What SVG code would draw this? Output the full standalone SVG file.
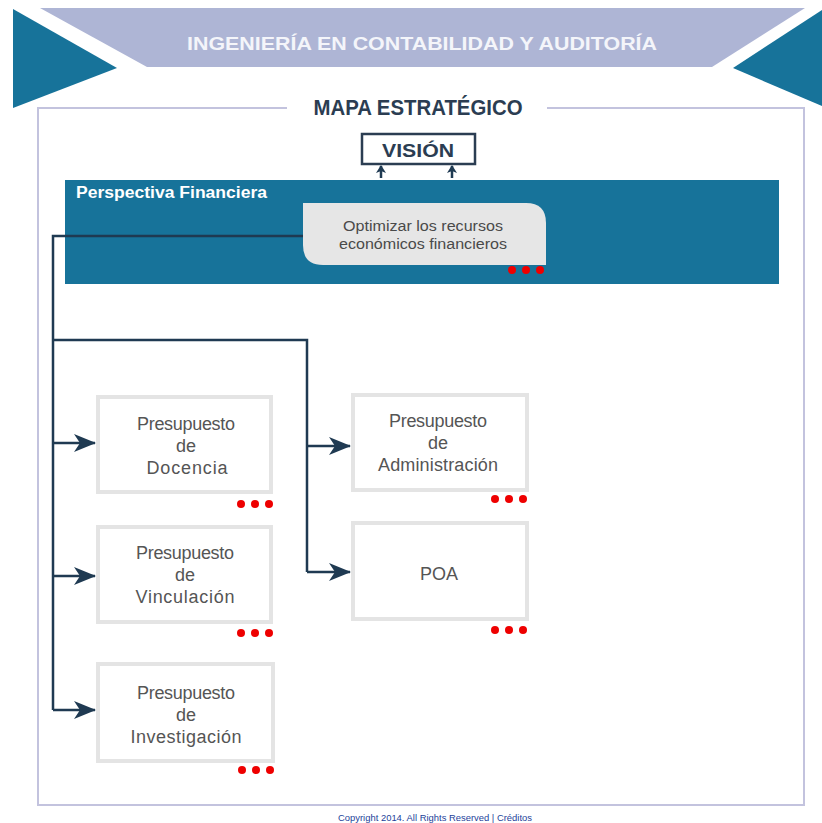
<svg xmlns="http://www.w3.org/2000/svg" width="822" height="823" viewBox="0 0 822 823">
  <style>
    .band { fill: #aeb5d5; }
    .tri { fill: #17739a; }
    .frame { fill: none; stroke: #c3c3de; stroke-width: 2; }
    .wire { fill: none; stroke: #1f3a52; stroke-width: 2.5; }
    .node rect { fill: #ffffff; stroke: #e4e4e4; stroke-width: 4; }
    .node text { font-family: "Liberation Sans", Arial, sans-serif; font-size: 18px; fill: #555555; text-anchor: middle; }
    .dot { fill: #ee0000; }
    .head { font-family: "Liberation Sans", Arial, sans-serif; font-weight: bold; fill: #2b3d52; text-anchor: middle; }
  </style>
  <defs>
    <marker id="arrow" viewBox="0 0 22 20" refX="21" refY="10" markerWidth="22" markerHeight="20" markerUnits="userSpaceOnUse" orient="auto">
      <path d="M0,1 L22,10 L0,19 L6,10 Z" fill="#1f3a52"/>
    </marker>
    <marker id="arrowSmall" viewBox="0 0 8 10" refX="7" refY="5" markerWidth="8" markerHeight="10" markerUnits="userSpaceOnUse" orient="auto">
      <path d="M0,0 L8,5 L0,10 L2,5 Z" fill="#1f3a52"/>
    </marker>
  </defs>

  <rect width="822" height="823" fill="#ffffff"/>

  <!-- header banner -->
  <g id="header">
    <polygon class="band" points="40,8 805,8 712,67 147,67"/>
    <polygon class="tri" points="13,9 117,68 13,108"/>
    <polygon class="tri" points="822,10 733,68 822,106"/>
    <text x="422" y="50" font-family="Liberation Sans, Arial, sans-serif" font-size="18.5" font-weight="bold" fill="#f4f5fa" text-anchor="middle" textLength="470" lengthAdjust="spacingAndGlyphs">INGENIERÍA EN CONTABILIDAD Y AUDITORÍA</text>
  </g>

  <!-- main frame with title gap -->
  <g id="frame">
    <path class="frame" d="M287,108 L38,108 L38,805 L804,805 L804,108 L547,108"/>
    <text class="head" x="418" y="115" font-size="21.5" textLength="209" lengthAdjust="spacingAndGlyphs">MAPA ESTRATÉGICO</text>
  </g>

  <!-- vision -->
  <g id="vision">
    <rect x="362" y="134" width="113" height="30" fill="#ffffff" stroke="#2b3d52" stroke-width="2.5"/>
    <text class="head" x="418" y="157" font-size="19" textLength="72" lengthAdjust="spacingAndGlyphs">VISIÓN</text>
  </g>

  <!-- financial perspective -->
  <g id="perspectiva">
    <rect x="65" y="180" width="714" height="104" fill="#17739a"/>
    <text x="76" y="198" font-family="Liberation Sans, Arial, sans-serif" font-size="16" font-weight="bold" fill="#ffffff" textLength="191" lengthAdjust="spacingAndGlyphs">Perspectiva Financiera</text>
  </g>

  <g id="optimizar">
    <path d="M303,203 L526,203 Q546,203 546,223 L546,265 L323,265 Q303,265 303,245 Z" fill="#e6e6e6"/>
    <text x="423" y="231" font-family="Liberation Sans, Arial, sans-serif" font-size="15.5" fill="#4a4a4a" text-anchor="middle" textLength="160" lengthAdjust="spacingAndGlyphs">Optimizar los recursos</text>
    <text x="423" y="249" font-family="Liberation Sans, Arial, sans-serif" font-size="15.5" fill="#4a4a4a" text-anchor="middle" textLength="168" lengthAdjust="spacingAndGlyphs">económicos financieros</text>
    <circle class="dot" cx="512" cy="270" r="4"/>
    <circle class="dot" cx="526" cy="270" r="4"/>
    <circle class="dot" cx="540" cy="270" r="4"/>
  </g>

  <!-- connectors -->
  <g id="connectors">
    <line class="wire" x1="381" y1="178" x2="381" y2="166" stroke-width="1.5" marker-end="url(#arrowSmall)"/>
    <line class="wire" x1="452" y1="178" x2="452" y2="166" stroke-width="1.5" marker-end="url(#arrowSmall)"/>
    <path class="wire" d="M303,236 L53,236 L53,710"/>
    <path class="wire" d="M53,340 L307,340 L307,572"/>
    <line class="wire" x1="53" y1="443" x2="95" y2="443" marker-end="url(#arrow)"/>
    <line class="wire" x1="53" y1="576" x2="95" y2="576" marker-end="url(#arrow)"/>
    <line class="wire" x1="53" y1="710" x2="95" y2="710" marker-end="url(#arrow)"/>
    <line class="wire" x1="307" y1="446" x2="350" y2="446" marker-end="url(#arrow)"/>
    <line class="wire" x1="307" y1="572" x2="350" y2="572" marker-end="url(#arrow)"/>
  </g>

  <!-- budget nodes -->
  <g id="docencia" class="node">
    <rect x="98" y="397" width="173" height="95"/>
    <text x="186" y="430" textLength="98">Presupuesto</text>
    <text x="186" y="452">de</text>
    <text x="187" y="474" textLength="81">Docencia</text>
    <circle class="dot" cx="241" cy="504" r="4"/>
    <circle class="dot" cx="255" cy="504" r="4"/>
    <circle class="dot" cx="269" cy="504" r="4"/>
  </g>

  <g id="vinculacion" class="node">
    <rect x="98" y="527" width="173" height="95"/>
    <text x="185" y="559" textLength="98">Presupuesto</text>
    <text x="185" y="581">de</text>
    <text x="185" y="603" textLength="99">Vinculación</text>
    <circle class="dot" cx="241" cy="633" r="4"/>
    <circle class="dot" cx="255" cy="633" r="4"/>
    <circle class="dot" cx="269" cy="633" r="4"/>
  </g>

  <g id="investigacion" class="node">
    <rect x="98" y="664" width="175" height="97"/>
    <text x="186" y="699" textLength="98">Presupuesto</text>
    <text x="186" y="721">de</text>
    <text x="186" y="743" textLength="111">Investigación</text>
    <circle class="dot" cx="242" cy="770" r="4"/>
    <circle class="dot" cx="256" cy="770" r="4"/>
    <circle class="dot" cx="270" cy="770" r="4"/>
  </g>

  <g id="administracion" class="node">
    <rect x="353" y="395" width="174" height="95"/>
    <text x="438" y="427" textLength="98">Presupuesto</text>
    <text x="438" y="449">de</text>
    <text x="438" y="471" textLength="120">Administración</text>
    <circle class="dot" cx="495" cy="499" r="4"/>
    <circle class="dot" cx="509" cy="499" r="4"/>
    <circle class="dot" cx="523" cy="499" r="4"/>
  </g>

  <g id="poa" class="node">
    <rect x="353" y="523" width="174" height="96"/>
    <text x="439" y="580">POA</text>
    <circle class="dot" cx="495" cy="630" r="4"/>
    <circle class="dot" cx="509" cy="630" r="4"/>
    <circle class="dot" cx="523" cy="630" r="4"/>
  </g>

  <!-- footer -->
  <text x="435" y="821" font-family="Liberation Sans, Arial, sans-serif" font-size="9" fill="#1d3f9a" text-anchor="middle" textLength="194" lengthAdjust="spacingAndGlyphs">Copyright 2014. All Rights Reserved | Créditos</text>
</svg>
